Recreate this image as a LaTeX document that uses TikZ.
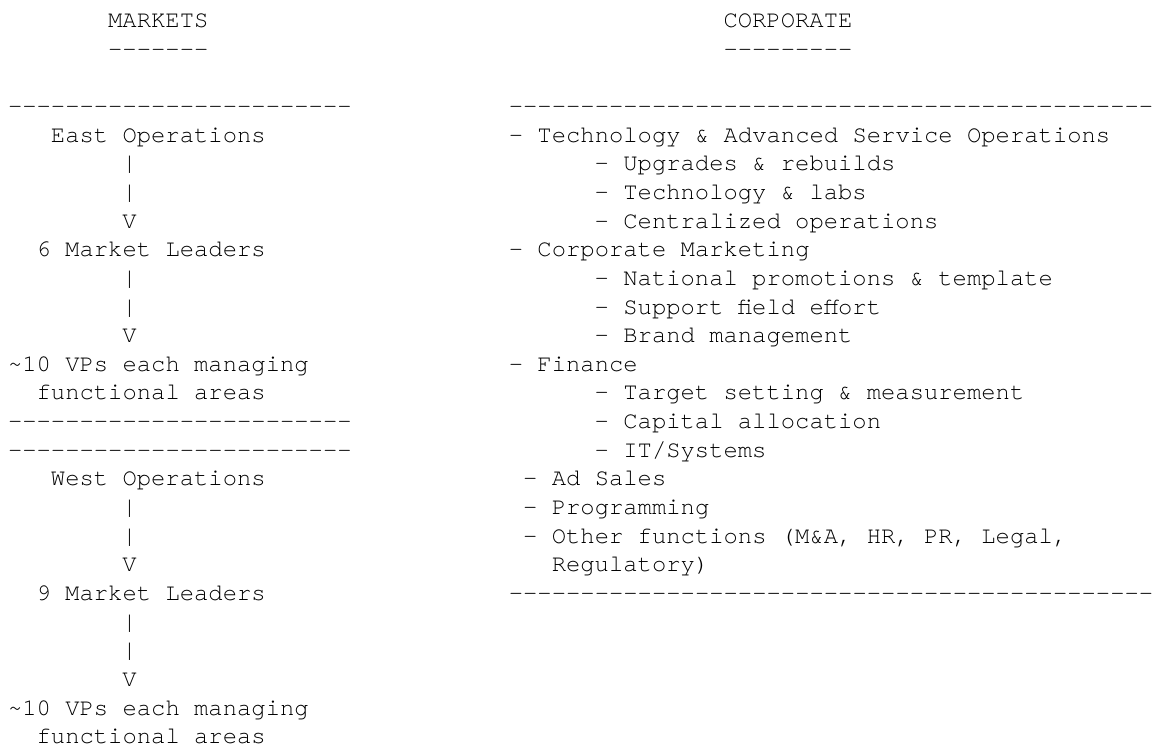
\documentclass[tikz,border=0pt]{standalone}
\usepackage{fontspec}
\setmonofont{TeX Gyre Cursor}
\tikzset{
  x=0.75pt, y=-0.75pt,
  txt/.style={anchor=base west, inner sep=0pt, outer sep=0pt,
    font=\fontsize{17.9pt}{21.5pt}\ttfamily}
}
\newcommand{\mytxt}[4]{\node[txt] (#1) at ({8+#2*14.31},{27.5+#3*28.65}) {#4};}
\begin{document}
\begin{tikzpicture}
\path[use as bounding box, fill=white] (0,0) rectangle (1155,751);
\clip (0,0) rectangle (1155,751);
% headings
\mytxt{hm}{7}{0}{MARKETS}
\mytxt{hmu}{7}{1}{-------}
\mytxt{hc}{50}{0}{CORPORATE}
\mytxt{hcu}{50}{1}{---------}
% left column
\mytxt{ld1}{0}{3}{------------------------}
\mytxt{east}{3}{4}{East Operations}
\mytxt{ea1}{8}{5}{|}
\mytxt{ea2}{8}{6}{|}
\mytxt{ea3}{8}{7}{V}
\mytxt{eml}{2}{8}{6 Market Leaders}
\mytxt{eb1}{8}{9}{|}
\mytxt{eb2}{8}{10}{|}
\mytxt{eb3}{8}{11}{V}
\mytxt{evp}{0}{12}{\string~10 VPs each managing}
\mytxt{efa}{2}{13}{functional areas}
\mytxt{ld2}{0}{14}{------------------------}
\mytxt{ld3}{0}{15}{------------------------}
\mytxt{west}{3}{16}{West Operations}
\mytxt{wa1}{8}{17}{|}
\mytxt{wa2}{8}{18}{|}
\mytxt{wa3}{8}{19}{V}
\mytxt{wml}{2}{20}{9 Market Leaders}
\mytxt{wb1}{8}{21}{|}
\mytxt{wb2}{8}{22}{|}
\mytxt{wb3}{8}{23}{V}
\mytxt{wvp}{0}{24}{\string~10 VPs each managing}
\mytxt{wfa}{2}{25}{functional areas}
% right column
\mytxt{rd1}{35}{3}{----------------------------------------------}
\mytxt{tech}{35}{4}{- Technology \& Advanced Service Operations}
\mytxt{t1}{41}{5}{- Upgrades \& rebuilds}
\mytxt{t2}{41}{6}{- Technology \& labs}
\mytxt{t3}{41}{7}{- Centralized operations}
\mytxt{mkt}{35}{8}{- Corporate Marketing}
\mytxt{m1}{41}{9}{- National promotions \& template}
\mytxt{m2}{41}{10}{- Support field effort}
\mytxt{m3}{41}{11}{- Brand management}
\mytxt{fin}{35}{12}{- Finance}
\mytxt{f1}{41}{13}{- Target setting \& measurement}
\mytxt{f2}{41}{14}{- Capital allocation}
\mytxt{f3}{41}{15}{- IT/Systems}
\mytxt{ads}{36}{16}{- Ad Sales}
\mytxt{prog}{36}{17}{- Programming}
\mytxt{oth}{36}{18}{- Other functions (M\&A, HR, PR, Legal,}
\mytxt{oth2}{38}{19}{Regulatory)}
\mytxt{rd2}{35}{20}{----------------------------------------------}
\end{tikzpicture}
\end{document}
